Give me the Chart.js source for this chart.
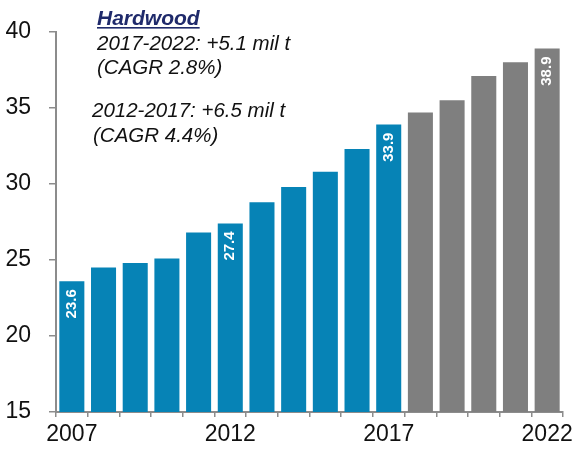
<!DOCTYPE html>
<html>
<head>
<meta charset="utf-8">
<script src="https://cdn.jsdelivr.net/npm/chart.js@4/dist/chart.umd.min.js"></script>
<style>
  html, body { margin: 0; padding: 0; background: #fff; }
  #wrap { width: 578px; height: 449px; }
</style>
</head>
<body>
<div id="wrap"><canvas id="myChart" width="578" height="449"></canvas></div>
<script>
// data
const years = ['2007','2008','2009','2010','2011','2012','2013','2014','2015','2016','2017','2018','2019','2020','2021','2022'];
const volume = [23.6, 24.5, 24.8, 25.1, 26.8, 27.4, 28.8, 29.8, 30.8, 32.3, 33.9, 34.7, 35.5, 37.1, 38.0, 38.9];
const shownYears = ['2007', '2012', '2017', '2022'];
const labelledYears = ['2007', '2012', '2017', '2022'];
const forecastFrom = '2018';
const yTicks = [15, 20, 25, 30, 35, 40];

const BLUE = '#0683b6';
const GREY = '#7f7f7f';
const AXIS = '#8c8c8c';

const barColors = years.map(y => +y >= +forecastFrom ? GREY : BLUE);

// text box top-left
const notes = {
    id: 'notes',
    afterDraw(chart) {
        const c = chart.ctx;
        c.save();
        c.textBaseline = 'alphabetic';
        c.textAlign = 'left';
        c.fillStyle = '#1f2a6b';
        c.font = 'italic bold 21px "Liberation Sans", Arial, sans-serif';
        c.fillText('Hardwood', 97, 25);
        const w = c.measureText('Hardwood').width;
        c.fillRect(97, 27, w, 1.6);
        c.fillStyle = '#111';
        c.font = 'italic 20.5px "Liberation Sans", Arial, sans-serif';
        c.fillText('2017-2022: +5.1 mil t', 97, 50);
        c.fillText('(CAGR 2.8%)', 97, 74);
        c.fillText('2012-2017: +6.5 mil t', 92, 117);
        c.fillText('(CAGR 4.4%)', 93, 142);
        c.restore();
    }
};

// white vertical value labels
const valueLabels = {
    id: 'valueLabels',
    afterDatasetsDraw(chart) {
        const c = chart.ctx;
        const meta = chart.getDatasetMeta(0);
        c.save();
        c.fillStyle = '#fff';
        c.font = 'bold 15px "Liberation Sans", Arial, sans-serif';
        c.textAlign = 'right';
        c.textBaseline = 'middle';
        meta.data.forEach((bar, i) => {
            if (!labelledYears.includes(years[i])) return;
            c.save();
            c.translate(bar.x, bar.y + 8);
            c.rotate(-Math.PI / 2);
            c.fillText(volume[i].toFixed(1), 0, 0);
            c.restore();
        });
        c.restore();
    }
};

const ctx = document.querySelector('#myChart').getContext('2d');
const myChart = new Chart(ctx, {
    type: 'bar',
    data: {
        labels: years,
        datasets: [{
            data: volume,
            backgroundColor: barColors,
            borderWidth: 0,
            barPercentage: 0.79,
            categoryPercentage: 1
        }]
    },
    options: {
        responsive: false,
        animation: false,
        layout: { padding: { top: 31, right: 15, left: 0, bottom: 0 } },
        plugins: {
            legend: { display: false },
            tooltip: { enabled: false }
        },
        scales: {
            x: {
                offset: true,
                border: { color: AXIS, width: 2 },
                grid: { display: true, offset: true, drawOnChartArea: false, drawTicks: true, tickLength: 5, color: AXIS, lineWidth: 1.5 },
                ticks: {
                    autoSkip: false,
                    maxRotation: 0,
                    padding: 4,
                    color: '#111',
                    font: { family: '"Liberation Sans", Arial, sans-serif', size: 23 },
                    callback: function (v, i) { return shownYears.includes(years[i]) ? years[i] : ''; }
                },
                afterFit(scale) { scale.height = 37; }
            },
            y: {
                min: yTicks[0],
                max: yTicks[yTicks.length - 1],
                border: { color: AXIS, width: 2 },
                grid: { drawOnChartArea: false, drawTicks: true, tickLength: 7, color: AXIS, lineWidth: 1.5 },
                afterBuildTicks(scale) { scale.ticks = yTicks.map(v => ({ value: v })); },
                ticks: {
                    padding: 18,
                    color: '#111',
                    font: { family: '"Liberation Sans", Arial, sans-serif', size: 23 }
                },
                afterFit(scale) { scale.width = 56; }
            }
        }
    },
    plugins: [notes, valueLabels]
});
</script>
</body>
</html>
